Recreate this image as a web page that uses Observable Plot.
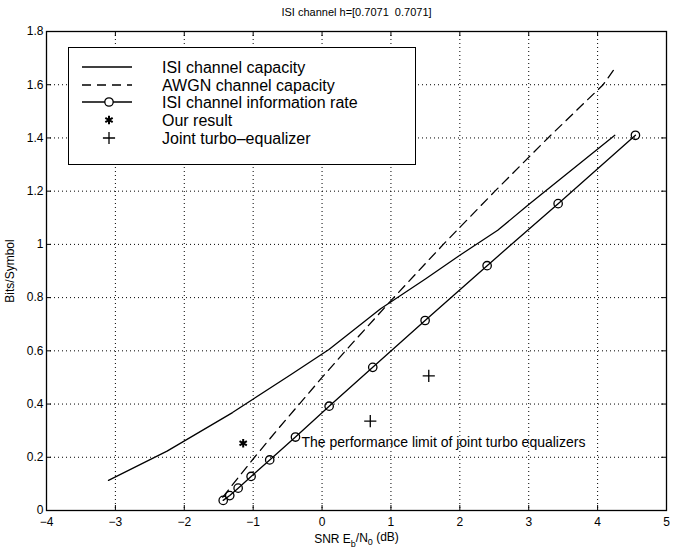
<!DOCTYPE html>
<html>
<head>
<meta charset="utf-8">
<script src="https://cdn.jsdelivr.net/npm/d3@7"></script>
<script src="https://cdn.jsdelivr.net/npm/@observablehq/plot@0.6"></script>
<style>
  body { margin: 0; background: #fff; }
  #chart { position: relative; width: 675px; height: 548px; font-family: "Liberation Sans", Arial, Helvetica, sans-serif; }
  #legend { position: absolute; left: 68px; top: 47px; width: 346px; height: 116px; border: 1.5px solid #000; background: #fff; }
  #legend svg { display: block; }
</style>
</head>
<body>
<div id="chart"><div id="legend"></div></div>
<script>
// ---- data ----
const titleText = "ISI channel h=[0.7071  0.7071]";
const xLabel = "SNR Eb/N0 (dB)";
const yLabel = "Bits/Symbol";
const xTicks = [-4, -3, -2, -1, 0, 1, 2, 3, 4, 5];
const yTicks = [0, 0.2, 0.4, 0.6, 0.8, 1, 1.2, 1.4, 1.6, 1.8];

// ISI channel capacity (solid)
const isiCapSnr  = [-3.1, -2.25, -1.3, -0.45, 0.1, 0.85, 1.5, 2.0, 2.55, 3.0, 4.25];
const isiCapBits = [0.113, 0.223, 0.368, 0.511, 0.605, 0.758, 0.87, 0.959, 1.053, 1.15, 1.41];

// AWGN channel capacity (dashed)
const awgnSnr  = [-1.44, -1.29, -0.98, -0.66, -0.33, 0.0, 0.34, 1.04, 1.76, 2.51, 3.28, 4.08, 4.26];
const awgnBits = [0.05, 0.1, 0.2, 0.3, 0.4, 0.5, 0.6, 0.8, 1.0, 1.2, 1.4, 1.6, 1.665];

// ISI channel information rate (line with circles)
const rateSnr  = [-1.435, -1.34, -1.218, -1.03, -0.76, -0.386, 0.103, 0.736, 1.496, 2.396, 3.427, 4.549];
const rateBits = [0.038, 0.056, 0.084, 0.128, 0.19, 0.276, 0.392, 0.538, 0.714, 0.92, 1.153, 1.41];

// Our result (asterisk)
const oursSnr  = [-1.145];
const oursBits = [0.253];

// Joint turbo-equalizer (plus)
const turboSnr  = [0.70, 1.549];
const turboBits = [0.336, 0.506];

// In-plot note
const noteSnr = [-0.30];
const noteBits = [0.256];
const noteText = ["The performance limit of joint turbo equalizers"];

const legendLabels = ["ISI channel capacity", "AWGN channel capacity", "ISI channel information rate", "Our result", "Joint turbo\u2013equalizer"];

// ---- tables ----
const zip = (xs, ys) => xs.map((x, i) => ({snr: x, bits: ys[i]}));
const isiCap = zip(isiCapSnr, isiCapBits);
const awgn = zip(awgnSnr, awgnBits);
const rate = zip(rateSnr, rateBits);
const ours = zip(oursSnr, oursBits);
const turbo = zip(turboSnr, turboBits);
const notes = noteText.map((t, i) => ({snr: noteSnr[i], bits: noteBits[i], text: t}));

// ---- layout ----
const W = 675, H = 548, mL = 46, mR = 9, mT = 31, mB = 38;
const innerW = W - mL - mR, innerH = H - mT - mB;
const tickLen = 5;
const font = "Liberation Sans, Arial, Helvetica, sans-serif";

const chart = Plot.plot({
  width: W, height: H,
  marginLeft: mL, marginRight: mR, marginTop: mT, marginBottom: mB,
  style: {fontFamily: font, fontSize: "12px", color: "#000", background: "#fff", overflow: "visible"},
  x: {domain: [-4, 5]},
  y: {domain: [0, 1.8]},
  marks: [
    Plot.gridX(xTicks, {stroke: "#000", strokeOpacity: 1, strokeWidth: 1, strokeDasharray: "1,3"}),
    Plot.gridY(yTicks, {stroke: "#000", strokeOpacity: 1, strokeWidth: 1, strokeDasharray: "1,3"}),
    // inward ticks on all four sides
    Plot.tickX(xTicks, {x: d => d, insetTop: innerH - tickLen, stroke: "#000"}),
    Plot.tickX(xTicks, {x: d => d, insetBottom: innerH - tickLen, stroke: "#000"}),
    Plot.tickY(yTicks, {y: d => d, insetRight: innerW - tickLen, stroke: "#000"}),
    Plot.tickY(yTicks, {y: d => d, insetLeft: innerW - tickLen, stroke: "#000"}),
    Plot.axisX(xTicks, {tickSize: 0, tickPadding: 7, label: null, fontSize: 12}),
    Plot.axisY(yTicks, {tickSize: 0, tickPadding: 3, fontSize: 12, tickFormat: d => String(d),
      label: yLabel, labelAnchor: "center", labelArrow: "none", labelOffset: 41}),
    Plot.frame({stroke: "#000", strokeWidth: 1.3}),
    Plot.line(isiCap, {x: "snr", y: "bits", stroke: "#000", strokeWidth: 1.3}),
    Plot.line(awgn, {x: "snr", y: "bits", stroke: "#000", strokeWidth: 1.3, strokeDasharray: "9,6"}),
    Plot.line(rate, {x: "snr", y: "bits", stroke: "#000", strokeWidth: 1.3}),
    Plot.dot(rate, {x: "snr", y: "bits", r: 4.2, stroke: "#000", strokeWidth: 1.3, fill: "none"}),
    Plot.dot(ours, {x: "snr", y: "bits", symbol: "asterisk", r: 4, stroke: "#000", strokeWidth: 2}),
    Plot.dot(turbo, {x: "snr", y: "bits", symbol: "plus", r: 4, stroke: "#000", strokeWidth: 1.3}),
    Plot.text(notes, {x: "snr", y: "bits", text: "text", textAnchor: "start", fontSize: 14, fill: "#000"}),
    Plot.text([titleText], {frameAnchor: "top", lineAnchor: "middle", dy: -19, fontSize: 11, fill: "#000"}),
    Plot.text([xLabel], {frameAnchor: "bottom", lineAnchor: "middle", dy: 29, fontSize: 12, fill: "#000"})
  ]
});

// subscripts in the x-axis label
d3.select(chart).selectAll("text").filter(function () { return this.textContent === xLabel; })
  .each(function () {
    const t = d3.select(this).text(null);
    t.append("tspan").text("SNR E");
    t.append("tspan").attr("dy", "0.35em").attr("font-size", "9px").text("b");
    t.append("tspan").attr("dy", "-0.35em").text("/N");
    t.append("tspan").attr("dy", "0.35em").attr("font-size", "9px").text("0");
    t.append("tspan").attr("dy", "-0.35em").text(" (dB)");
  });

const host = document.getElementById("chart");
host.insertBefore(chart, host.firstChild);

// ---- legend ----
const lg = d3.select("#legend").append("svg").attr("width", 346).attr("height", 116)
  .attr("font-family", font).attr("font-size", 16);
const rowY = [19, 37, 54, 72, 90];
const sx0 = 13, sx1 = 63, sxm = 40, tx = 93;
legendLabels.forEach((lab, i) => {
  const g = lg.append("g").attr("transform", `translate(0,${rowY[i]})`);
  if (i < 3) {
    const ln = g.append("line").attr("x1", sx0).attr("x2", sx1).attr("stroke", "#000").attr("stroke-width", 1.3);
    if (i === 1) ln.attr("stroke-dasharray", "9,6");
    if (i === 2) g.append("circle").attr("cx", sxm).attr("r", 4.2).attr("fill", "#fff").attr("stroke", "#000").attr("stroke-width", 1.3);
  } else {
    const sym = i === 3 ? d3.symbolAsterisk : d3.symbolPlus;
    const size = 4;
    g.append("path").attr("transform", `translate(${sxm},0)`)
      .attr("d", d3.symbol(sym, Math.PI * size * size)())
      .attr("fill", "none").attr("stroke", "#000").attr("stroke-width", i === 3 ? 2 : 1.3);
  }
  g.append("text").attr("x", tx).attr("dy", "0.35em").text(lab);
});
</script>
</body>
</html>
